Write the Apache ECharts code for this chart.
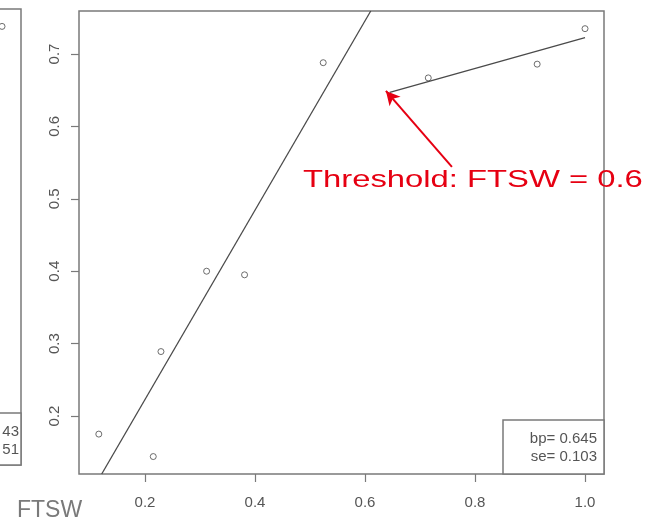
<!DOCTYPE html>
<html>
<head>
<meta charset="utf-8">
<script src="https://cdn.jsdelivr.net/npm/echarts@6/dist/echarts.min.js"></script>
<style>
  html, body { margin: 0; padding: 0; background: #ffffff; }
  #chart { width: 650px; height: 521px; }
</style>
</head>
<body>
<div id="chart"></div>
<script>
// Observed relative rate vs. soil water fraction (FTSW)
const ftsw = [0.116, 0.215, 0.229, 0.312, 0.381, 0.524, 0.715, 0.913, 1.0];
const rate = [0.175, 0.144, 0.289, 0.400, 0.395, 0.688, 0.667, 0.686, 0.735];

// Segmented regression: steep segment below the breakpoint, shallow one above
const lowSegX = [0.1213, 0.6104];
const lowSegY = [0.1199, 0.7594];
const highSegX = [0.645, 1.0];
const highSegY = [0.647, 0.7225];

// Breakpoint estimate and its standard error
const bp = 0.645;
const se = 0.103;

// Annotation arrow (tail, head) pointing at the breakpoint
const arrowX = [0.758, 0.638];
const arrowY = [0.544, 0.649];
const thresholdText = 'Threshold: FTSW = 0.6';

// Neighbouring panel, only its right edge is in view
const sideX = [1.0];
const sideY = [0.735];
const sideStats = ['43', '51'];

// Axis ticks
const xTicks = [0.2, 0.4, 0.6, 0.8, 1.0];
const yTicks = [0.2, 0.3, 0.4, 0.5, 0.6, 0.7];

const xRange = [0.080, 1.0345];
const yRange = [0.1199, 0.7594];

const axisGray = '#7a7a7a';
const labelGray = '#555555';
const markGray = '#4a4a4a';

const chart = echarts.init(document.getElementById('chart'), null, { renderer: 'canvas' });

const pairs = (xs, ys) => xs.map((x, i) => [x, ys[i]]);

chart.setOption({
  animation: false,
  backgroundColor: '#ffffff',
  grid: [
    { left: 79, right: 46, top: 11, bottom: 47, show: true, borderColor: axisGray, borderWidth: 1.5, backgroundColor: '#ffffff', outerBoundsMode: 'none' },
    { left: -504, right: 629, top: 9, bottom: 56, show: true, borderColor: axisGray, borderWidth: 1.5, outerBoundsMode: 'none' }
  ],
  xAxis: [
    {
      gridIndex: 0, type: 'value', min: xRange[0], max: xRange[1],
      splitLine: { show: false },
      axisLine: { show: false },
      axisTick: { show: true, customValues: xTicks, length: 8, lineStyle: { color: axisGray, width: 1.2 } },
      axisLabel: {
        customValues: xTicks, margin: 21, color: labelGray, fontSize: 15,
        fontFamily: 'Liberation Sans, Arial, sans-serif',
        formatter: v => v.toFixed(1)
      }
    },
    {
      gridIndex: 1, type: 'value', min: xRange[0], max: xRange[1],
      show: false
    }
  ],
  yAxis: [
    {
      gridIndex: 0, type: 'value', min: yRange[0], max: yRange[1],
      splitLine: { show: false },
      axisLine: { show: false },
      axisTick: { show: true, customValues: yTicks, length: 8, lineStyle: { color: axisGray, width: 1.2 } },
      axisLabel: {
        customValues: yTicks, rotate: 90, margin: 17, color: labelGray, fontSize: 15,
        fontFamily: 'Liberation Sans, Arial, sans-serif',
        formatter: v => v.toFixed(1)
      }
    },
    {
      gridIndex: 1, type: 'value', min: yRange[0], max: yRange[1],
      show: false
    }
  ],
  series: [
    {
      type: 'line', xAxisIndex: 0, yAxisIndex: 0,
      data: pairs(lowSegX, lowSegY),
      symbol: 'none', clip: true,
      lineStyle: { color: markGray, width: 1.3 }
    },
    {
      type: 'line', xAxisIndex: 0, yAxisIndex: 0,
      data: pairs(highSegX, highSegY),
      symbol: 'none', clip: true,
      lineStyle: { color: markGray, width: 1.3 },
      markLine: {
        silent: true, animation: false,
        symbol: ['none', 'arrow'], symbolSize: [11, 14],
        label: { show: false },
        lineStyle: { color: '#e60012', width: 2, type: 'solid' },
        data: [[
          { coord: [arrowX[0], arrowY[0]] },
          { coord: [arrowX[1], arrowY[1]] }
        ]]
      }
    },
    {
      type: 'scatter', xAxisIndex: 0, yAxisIndex: 0,
      data: pairs(ftsw, rate),
      symbol: 'circle', symbolSize: 6,
      itemStyle: { color: '#ffffff', borderColor: markGray, borderWidth: 1 }
    },
    {
      type: 'scatter', xAxisIndex: 1, yAxisIndex: 1,
      data: pairs(sideX, sideY),
      symbol: 'circle', symbolSize: 6, clip: false,
      itemStyle: { color: '#ffffff', borderColor: markGray, borderWidth: 1 }
    }
  ],
  graphic: [
    // breakpoint statistics box
    {
      type: 'rect', shape: { x: 503, y: 420, width: 101, height: 54 },
      style: { fill: '#ffffff', stroke: axisGray, lineWidth: 1.5 }, z: 10
    },
    {
      type: 'text', x: 597, y: 439, z: 11,
      style: { text: 'bp= ' + bp.toFixed(3), fontSize: 15, fill: labelGray, align: 'right', verticalAlign: 'middle', fontFamily: 'Liberation Sans, Arial, sans-serif' }
    },
    {
      type: 'text', x: 597, y: 457, z: 11,
      style: { text: 'se= ' + se.toFixed(3), fontSize: 15, fill: labelGray, align: 'right', verticalAlign: 'middle', fontFamily: 'Liberation Sans, Arial, sans-serif' }
    },
    // statistics box of the neighbouring panel
    {
      type: 'rect', shape: { x: -80, y: 413, width: 101, height: 52 },
      style: { fill: '#ffffff', stroke: axisGray, lineWidth: 1.5 }, z: 10
    },
    {
      type: 'text', x: 19, y: 432, z: 11,
      style: { text: sideStats[0], fontSize: 15, fill: labelGray, align: 'right', verticalAlign: 'middle', fontFamily: 'Liberation Sans, Arial, sans-serif' }
    },
    {
      type: 'text', x: 19, y: 450, z: 11,
      style: { text: sideStats[1], fontSize: 15, fill: labelGray, align: 'right', verticalAlign: 'middle', fontFamily: 'Liberation Sans, Arial, sans-serif' }
    },
    // shared x-axis title
    {
      type: 'text', x: 17, y: 511, z: 11,
      style: { text: 'FTSW', fontSize: 23, fill: '#7a7a7a', align: 'left', verticalAlign: 'middle', fontFamily: 'Liberation Sans, Arial, sans-serif' }
    },
    // threshold annotation
    {
      type: 'text', x: 303, y: 180, z: 12, scaleX: 1.366, scaleY: 1,
      style: { text: thresholdText, fontSize: 24, fill: '#e60012', align: 'left', verticalAlign: 'middle', fontFamily: 'Liberation Sans, Arial, sans-serif' }
    }
  ]
});
</script>
</body>
</html>
